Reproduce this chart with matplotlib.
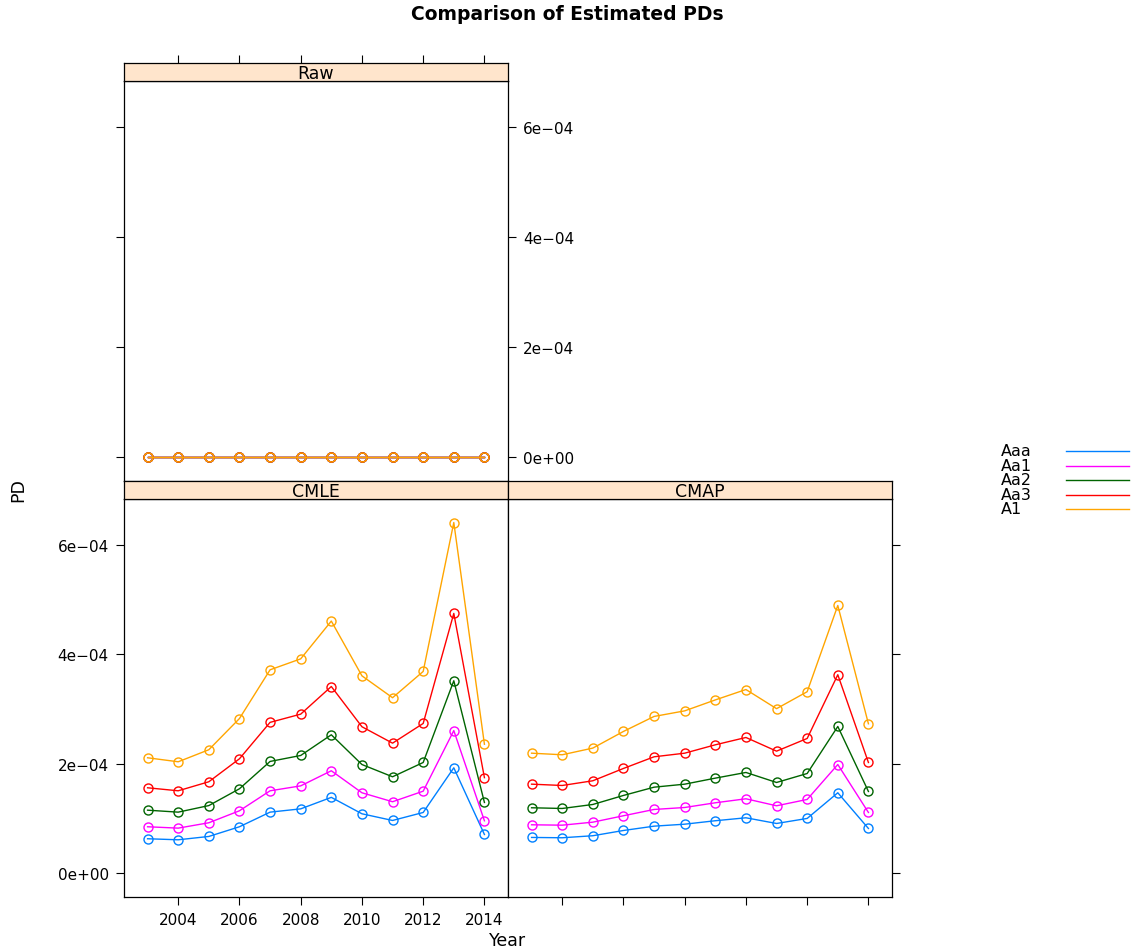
import numpy as np
import matplotlib.pyplot as plt
from matplotlib.lines import Line2D
from matplotlib.ticker import FuncFormatter

plt.rcParams['font.family'] = ['DejaVu Sans']

years = np.arange(2003, 2015)
series = ['Aaa', 'Aa1', 'Aa2', 'Aa3', 'A1']
colors = ['#0080ff', '#ff00ff', '#006400', '#ff0000', '#ffa500']

# values in units of 1e-4
raw = {s: [0.0] * 12 for s in series}
cmle = {
  'Aaa': [0.634, 0.615, 0.676, 0.853, 1.12, 1.18, 1.39, 1.09, 0.968, 1.114, 1.93, 0.712],
  'Aa1': [0.853, 0.828, 0.926, 1.145, 1.51, 1.60, 1.876, 1.474, 1.31, 1.503, 2.61, 0.962],
  'Aa2': [1.156, 1.12, 1.24, 1.547, 2.046, 2.155, 2.533, 1.99, 1.766, 2.027, 3.52, 1.297],
  'Aa3': [1.565, 1.51, 1.675, 2.095, 2.76, 2.91, 3.415, 2.68, 2.38, 2.74, 4.75, 1.75],
  'A1':  [2.113, 2.04, 2.26, 2.83, 3.72, 3.92, 4.61, 3.61, 3.21, 3.69, 6.41, 2.36],
}
cmap = {
  'Aaa': [0.658, 0.652, 0.689, 0.785, 0.864, 0.90, 0.963, 1.017, 0.913, 1.005, 1.474, 0.822],
  'Aa1': [0.889, 0.882, 0.937, 1.054, 1.169, 1.205, 1.291, 1.364, 1.236, 1.352, 1.99, 1.114],
  'Aa2': [1.20, 1.187, 1.26, 1.425, 1.576, 1.631, 1.741, 1.845, 1.662, 1.826, 2.685, 1.498],
  'Aa3': [1.631, 1.607, 1.693, 1.918, 2.131, 2.197, 2.35, 2.484, 2.234, 2.466, 3.63, 2.027],
  'A1':  [2.197, 2.168, 2.29, 2.594, 2.868, 2.97, 3.17, 3.36, 3.01, 3.32, 4.895, 2.734],
}
xticks = [2004, 2006, 2008, 2010, 2012, 2014]
yticks = [0, 2e-4, 4e-4, 6e-4]

W, H = 1135, 953
fig = plt.figure(figsize=(W / 100, H / 100), dpi=100)

def box(x0, y0, x1, y1):
  return [x0 / W, 1 - y1 / H, (x1 - x0) / W, (y1 - y0) / H]

strip_col = '#ffe5cc'
fs = 11

def sci(v, pos):
  return ('%.0e' % v).replace('-', '\u2212')

def panel(rect, srect, name, data):
  ax = fig.add_axes(rect)
  for s, c in zip(series, colors):
    ax.plot(years, np.array(data[s]) * 1e-4, color=c, lw=1.0, marker='o',
            mfc='none', mec=c, ms=6.5, mew=1.0)
  ax.set_xlim(2002.23, 2014.77)
  ax.set_ylim(-0.43e-4, 6.84e-4)
  ax.set_xticks(xticks)
  ax.set_yticks(yticks)
  ax.yaxis.set_major_formatter(FuncFormatter(sci))
  ax.tick_params(direction='out', length=6, width=0.8, labelsize=fs, pad=5,
                 bottom=False, top=False, left=False, right=False,
                 labelbottom=False, labelleft=False)
  for sp in ax.spines.values():
    sp.set_linewidth(0.9)
  st = fig.add_axes(srect, sharex=ax)
  st.set_facecolor(strip_col)
  st.set_yticks([])
  st.tick_params(bottom=False, labelbottom=False, top=False, labeltop=False,
                 direction='out', length=6, width=0.8)
  for sp in st.spines.values():
    sp.set_linewidth(0.9)
  st.text(0.5, 0.45, name, transform=st.transAxes, ha='center', va='center', fontsize=12.5)
  return ax, st

ax_raw, st_raw = panel(box(124, 82, 508, 482), box(124, 64, 508, 82), 'Raw', raw)
ax_cmle, st_cmle = panel(box(124, 500, 508, 898), box(124, 482, 508, 500), 'CMLE', cmle)
ax_cmap, st_cmap = panel(box(508, 500, 892, 898), box(508, 482, 892, 500), 'CMAP', cmap)

st_raw.tick_params(top=True)
ax_raw.tick_params(left=True, right=True, labelright=True)
ax_cmle.tick_params(left=True, labelleft=True, bottom=True, labelbottom=True)
ax_cmap.tick_params(right=True, bottom=True)

fig.text(567 / W, 1 - 15 / H, 'Comparison of Estimated PDs', ha='center', va='center',
         fontsize=13.5, fontweight='bold')
fig.text(18 / W, 1 - 490 / H, 'PD', rotation=90, ha='center', va='center', fontsize=12.5)
fig.text(508 / W, 1 - 941 / H, 'Year', ha='center', va='center', fontsize=12.5)

# legend: text then line, lattice style (rows packed tightly like the original)
for i, (s, c) in enumerate(zip(series, colors)):
  yy = 1 - (452 + 14.5 * i) / H
  fig.text(1001 / W, yy, s, ha='left', va='center', fontsize=11.5)
  fig.add_artist(Line2D([1066 / W, 1129 / W], [yy, yy], color=c, lw=1.0,
                        transform=fig.transFigure))

fig.savefig('out.png', dpi=100)
